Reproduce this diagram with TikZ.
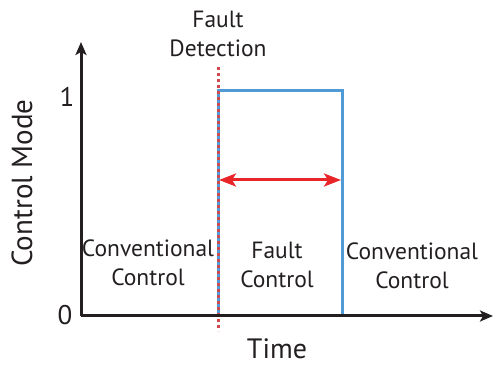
\documentclass[tikz,border=0pt]{standalone}
\usepackage{fontspec}
\setmainfont{PT Sans}
\usetikzlibrary{arrows.meta,positioning}

\definecolor{axisgray}{RGB}{35,31,32}
\definecolor{modeblue}{RGB}{80,155,213}
\definecolor{detectred}{RGB}{205,75,80}
\definecolor{spanred}{RGB}{232,38,42}

\tikzset{
  axisline/.style={draw=axisgray, line width=3pt, -{Stealth[length=13pt,width=11pt,inset=3pt]}},
  modeline/.style={draw=modeblue, line width=3pt},
  detectline/.style={draw=detectred, line width=3pt, dash pattern=on 3pt off 3pt},
  spanarrow/.style={draw=spanred, line width=3pt, {Stealth[length=17pt,width=13pt,inset=4pt]}-{Stealth[length=17pt,width=13pt,inset=4pt]}},
  region/.style={align=center, text=axisgray, font=\fontsize{23.5}{28.5}\selectfont, inner sep=0pt},
  bigtext/.style={text=axisgray, font=\fontsize{28}{30}\selectfont, inner sep=0pt},
}

\begin{document}
\begin{tikzpicture}[x=1pt,y=1pt]
        \useasboundingbox (0,0) rectangle (493,367);

        \coordinate (origin) at (81,51);
        \coordinate (ytip) at (81,325);
        \coordinate (xtip) at (493,51);
        \coordinate (dettop) at (218,300);
        \coordinate (detbot) at (218,36);
        \coordinate (fstart) at (218,51);
        \coordinate (fup) at (218,276);
        \coordinate (fend) at (342,276);
        \coordinate (fdown) at (342,51);
        \coordinate (spanl) at (219,187);
        \coordinate (spanr) at (341,187);

        \node (one) [bigtext, font=\fontsize{27}{30}\selectfont] at (67,270.5) {1};
        \node (zero) [bigtext, font=\fontsize{27}{30}\selectfont] at (65,52) {0};
        \node (ylab) [bigtext, font=\fontsize{29}{30}\selectfont, rotate=90] at (22,184) {Control Mode};
        \node (xlab) [bigtext, anchor=base] at (277,8) {Time};
        \node (detect) [region] at (218,333) {Fault\\Detection};
        \node (convleft) [region] at (148,104) {Conventional\\Control};
        \node (faultctl) [region] at (277,102) {Fault\\Control};
        \node (convright) [region] at (412,101) {Conventional\\Control};

        \draw[modeline] (fstart) -- (fup) -- (fend) -- (fdown);
        \draw[detectline] (dettop) -- (detbot);
        \draw[axisline] (origin) -- (ytip);
        \draw[axisline] (origin) -- (xtip);
        \draw[spanarrow] (spanl) -- (spanr);

    \end{tikzpicture}
\end{document}
